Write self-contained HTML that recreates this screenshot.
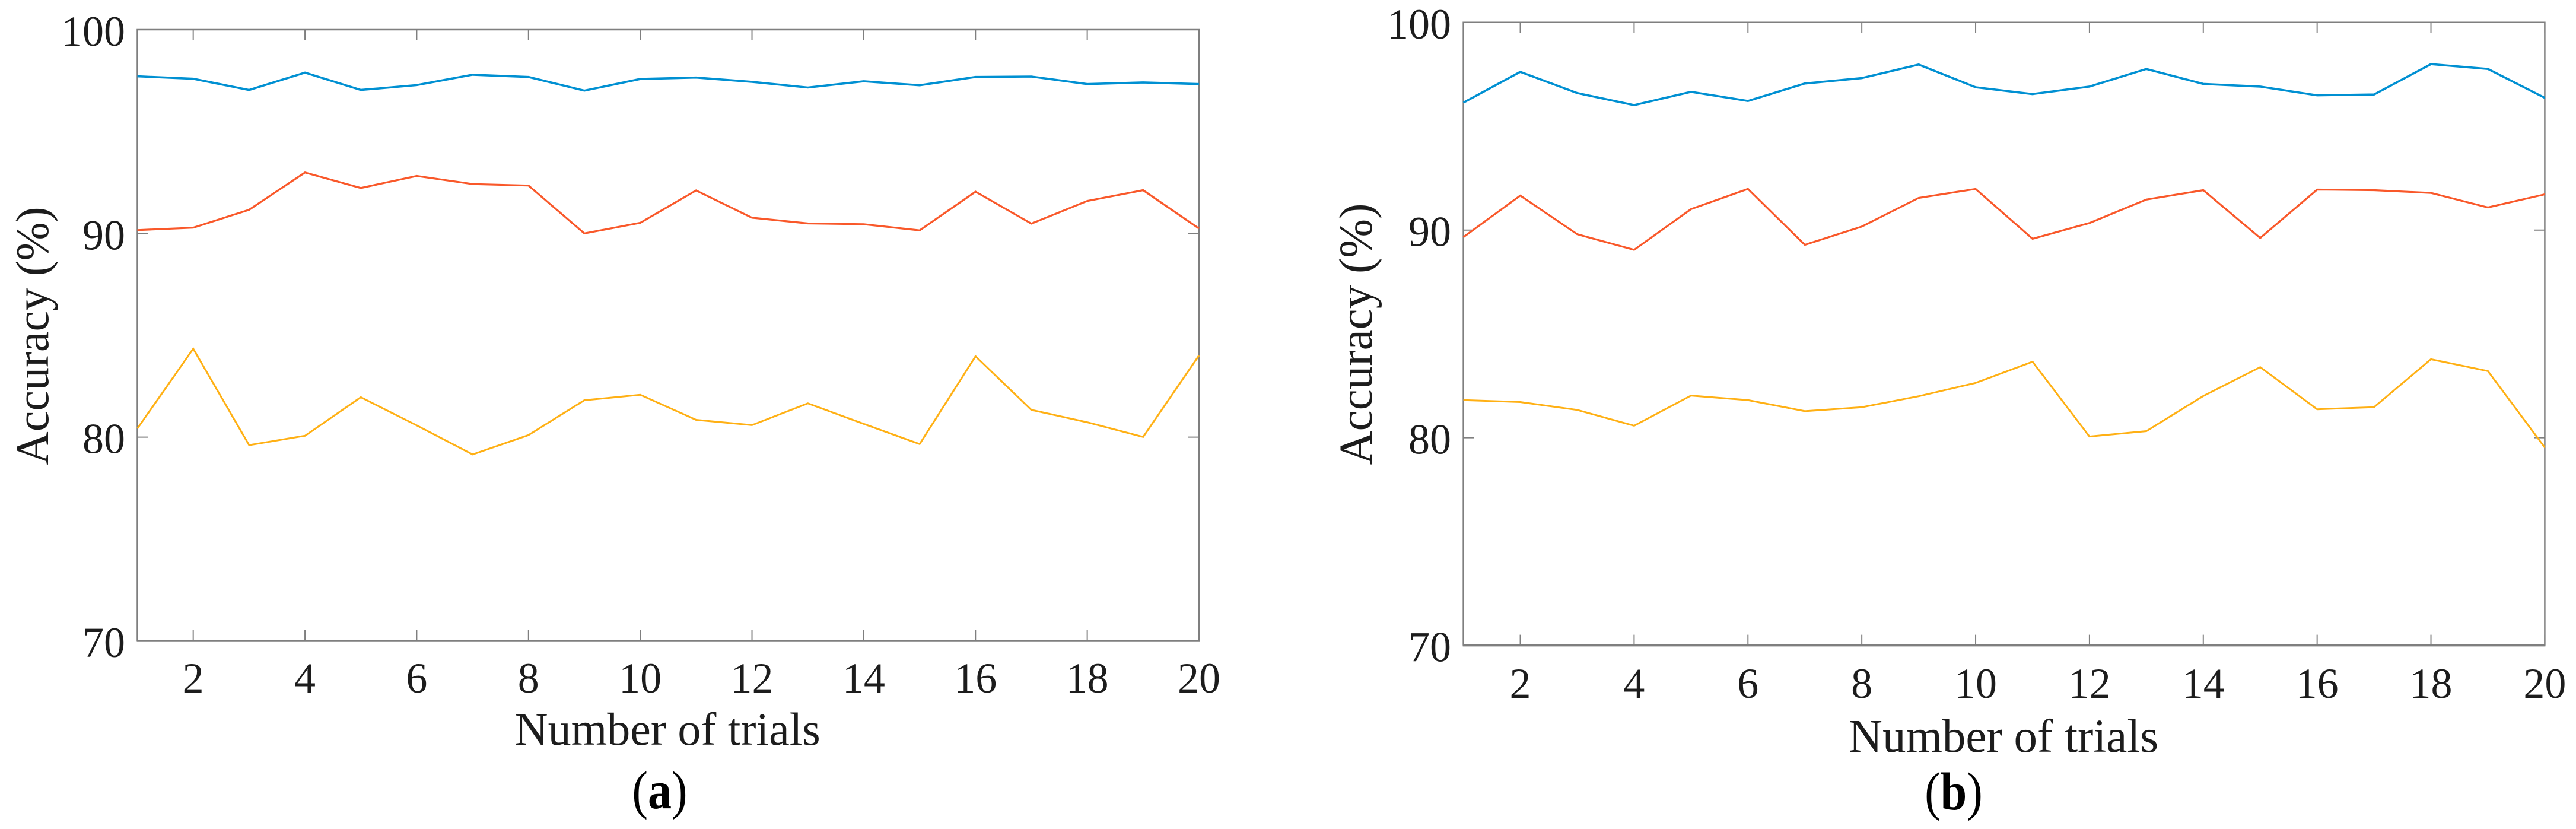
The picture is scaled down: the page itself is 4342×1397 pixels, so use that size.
<!DOCTYPE html>
<html lang="en">
<head>
<meta charset="utf-8">
<title>Accuracy versus number of trials</title>
<style>
  html, body { margin: 0; padding: 0; background: #fff; }
  body { width: 4342px; height: 1397px; overflow: hidden; }
  svg { display: block; }
  text { font-family: "Liberation Serif", "Times New Roman", serif; fill: #1c1c1c; }
</style>
</head>
<body>
<svg id="figure" xmlns="http://www.w3.org/2000/svg" width="4342" height="1397" viewBox="0 0 4342 1397">
  <rect x="0" y="0" width="4342" height="1397" fill="#ffffff"/>

  <g id="panel-a"></g>
  <text transform="translate(81,566) rotate(-90)" font-size="78" text-anchor="middle">Accuracy (%)</text>
  <text x="1125" y="1255" font-size="78" text-anchor="middle">Number of trials</text>
  <text transform="translate(1112,1362) scale(1,1.12)" x="0" y="0" font-size="80" text-anchor="middle" style="fill:#000">(<tspan font-weight="bold">a</tspan>)</text>

  <g id="panel-b"></g>
  <text transform="translate(2312,563) rotate(-90)" font-size="79" text-anchor="middle">Accuracy (%)</text>
  <text x="3377" y="1267" font-size="79" text-anchor="middle">Number of trials</text>
  <text transform="translate(3293,1364) scale(1,1.12)" x="0" y="0" font-size="80" text-anchor="middle" style="fill:#000">(<tspan font-weight="bold">b</tspan>)</text>
</svg>

<script>
// Chart data
const trials = [1, 2, 3, 4, 5, 6, 7, 8, 9, 10, 11, 12, 13, 14, 15, 16, 17, 18, 19, 20];
const xTickLabels = [2, 4, 6, 8, 10, 12, 14, 16, 18, 20];
const yTickLabels = [70, 80, 90, 100];

const panelABlue = [97.71, 97.59, 97.04, 97.89, 97.04, 97.28, 97.79, 97.68, 97.01, 97.58, 97.65, 97.44, 97.16, 97.47, 97.27, 97.68, 97.70, 97.33, 97.41, 97.33];
const panelARed = [90.16, 90.28, 91.16, 92.99, 92.23, 92.82, 92.42, 92.35, 90.00, 90.52, 92.11, 90.77, 90.49, 90.45, 90.15, 92.05, 90.48, 91.59, 92.12, 90.24];
const panelAYellow = [80.42, 84.34, 79.61, 80.07, 81.96, 80.58, 79.15, 80.10, 81.81, 82.08, 80.85, 80.59, 81.66, 80.65, 79.66, 83.97, 81.34, 80.73, 80.01, 84.01];

const panelBBlue = [96.14, 97.62, 96.60, 96.02, 96.66, 96.22, 97.06, 97.32, 97.97, 96.88, 96.55, 96.91, 97.76, 97.04, 96.91, 96.49, 96.53, 97.99, 97.76, 96.37];
const panelBRed = [89.66, 91.66, 89.80, 89.05, 91.01, 91.98, 89.29, 90.17, 91.55, 91.98, 89.58, 90.34, 91.47, 91.92, 89.62, 91.95, 91.92, 91.79, 91.09, 91.72];
const panelBYellow = [81.81, 81.72, 81.34, 80.58, 82.03, 81.81, 81.28, 81.47, 82.00, 82.64, 83.66, 80.06, 80.32, 82.01, 83.40, 81.37, 81.47, 83.78, 83.21, 79.53];

const SVG_NS = 'http://www.w3.org/2000/svg';
const AXIS_COLOR = '#7f7f7f';
const TICK_LEN = 18;

function drawPanel(groupId, prefix, box, blue, red, yellow) {
  const group = document.getElementById(groupId);
  const xMin = trials[0];
  const xMax = trials[trials.length - 1];
  const yMin = yTickLabels[0];
  const yMax = yTickLabels[yTickLabels.length - 1];
  const xScale = function (v) { return box.left + (v - xMin) / (xMax - xMin) * (box.right - box.left); };
  const yScale = function (v) { return box.bottom - (v - yMin) / (yMax - yMin) * (box.bottom - box.top); };

  function makeLine(x1, y1, x2, y2, width) {
    const el = document.createElementNS(SVG_NS, 'line');
    el.setAttribute('x1', x1);
    el.setAttribute('y1', y1);
    el.setAttribute('x2', x2);
    el.setAttribute('y2', y2);
    el.setAttribute('stroke', AXIS_COLOR);
    el.setAttribute('stroke-width', width);
    return el;
  }

  const frame = document.createElementNS(SVG_NS, 'path');
  frame.setAttribute('d', 'M' + box.left + ' ' + box.bottom + 'V' + box.top + 'H' + box.right + 'V' + box.bottom);
  frame.setAttribute('fill', 'none');
  frame.setAttribute('stroke', AXIS_COLOR);
  frame.setAttribute('stroke-width', '2.5');
  
  
  group.appendChild(frame);

  const baseLine = makeLine(box.left - 1, box.bottom, box.right + 1, box.bottom, 3.5);
  
  
  group.appendChild(baseLine);

  xTickLabels.forEach(function (v) {
    const x = xScale(v);
    const bottomTick = makeLine(x, box.bottom, x, box.bottom - TICK_LEN, 2);
    
    
    group.appendChild(bottomTick);

    const topTick = makeLine(x, box.top, x, box.top + TICK_LEN, 2);
    
    
    group.appendChild(topTick);

    const label = document.createElementNS(SVG_NS, 'text');
    label.setAttribute('x', x);
    label.setAttribute('y', box.xLabelBaseline);
    label.setAttribute('font-size', box.tickFont);
    label.setAttribute('text-anchor', 'middle');
    
    
    label.textContent = String(v);
    group.appendChild(label);
  });

  yTickLabels.forEach(function (v) {
    const y = yScale(v);
    if (v !== yMin && v !== yMax) {
      const leftTick = makeLine(box.left, y, box.left + TICK_LEN, y, 2);
      
      
      group.appendChild(leftTick);

      const rightTick = makeLine(box.right, y, box.right - TICK_LEN, y, 2);
      
      
      group.appendChild(rightTick);
    }

    const label = document.createElementNS(SVG_NS, 'text');
    label.setAttribute('x', box.yLabelRight);
    label.setAttribute('y', y + 27);
    label.setAttribute('font-size', box.tickFont);
    label.setAttribute('text-anchor', 'end');
    
    
    label.textContent = String(v);
    group.appendChild(label);
  });

  function drawSeries(values, color, width, name) {
    const points = values.map(function (v, i) {
      return xScale(trials[i]).toFixed(1) + ',' + yScale(v).toFixed(1);
    }).join(' ');
    const line = document.createElementNS(SVG_NS, 'polyline');
    line.setAttribute('points', points);
    line.setAttribute('fill', 'none');
    line.setAttribute('stroke', color);
    line.setAttribute('stroke-width', width);
    line.setAttribute('stroke-linejoin', 'miter');
    
    
    group.appendChild(line);
  }

  drawSeries(blue, '#0090d2', 3.6, prefix + '-blue-series-line');
  drawSeries(red, '#f9582a', 3.2, prefix + '-red-series-line');
  drawSeries(yellow, '#ffb014', 3, prefix + '-yellow-series-line');
}

drawPanel('panel-a', 'panel-a',
  { left: 231.5, right: 2021, top: 50, bottom: 1080, xLabelBaseline: 1167, yLabelRight: 211, tickFont: 72 },
  panelABlue, panelARed, panelAYellow);

drawPanel('panel-b', 'panel-b',
  { left: 2466.6, right: 4289.4, top: 37.8, bottom: 1087.6, xLabelBaseline: 1176, yLabelRight: 2446, tickFont: 72 },
  panelBBlue, panelBRed, panelBYellow);
</script>
</body>
</html>
